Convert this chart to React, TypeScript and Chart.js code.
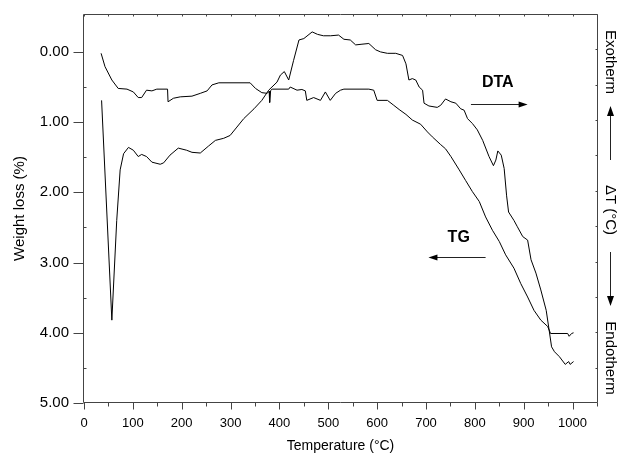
import { useEffect, useRef } from 'react';
import { Chart, registerables } from 'chart.js';

Chart.register(...registerables);

// TG curve: temperature (°C) and weight loss (%)
const tgTemp = [35, 43, 57, 70, 88, 101, 111, 118, 128, 139, 149, 171, 172, 183, 197, 221, 238, 252, 262, 276, 340, 351, 364, 375, 379, 380, 382, 385, 419, 422, 436, 446, 453, 456, 470, 484, 494, 504, 515, 525, 532, 583, 593, 600, 621, 634, 645, 659, 672, 689, 703, 713, 730, 740, 751, 768, 781, 795, 809, 822, 836, 850, 863, 880, 894, 908, 921, 935, 949, 955, 990, 993, 998, 1002];
const tgLoss = [0.02, 0.21, 0.40, 0.52, 0.53, 0.57, 0.65, 0.65, 0.545, 0.555, 0.53, 0.53, 0.71, 0.66, 0.64, 0.63, 0.59, 0.555, 0.47, 0.44, 0.44, 0.52, 0.58, 0.59, 0.56, 0.72, 0.55, 0.53, 0.53, 0.50, 0.545, 0.535, 0.555, 0.69, 0.65, 0.69, 0.57, 0.69, 0.59, 0.545, 0.53, 0.53, 0.545, 0.69, 0.69, 0.76, 0.82, 0.89, 0.97, 1.03, 1.14, 1.21, 1.32, 1.38, 1.49, 1.68, 1.83, 1.99, 2.13, 2.35, 2.54, 2.70, 2.89, 3.08, 3.30, 3.49, 3.68, 3.82, 3.91, 4.01, 4.01, 4.05, 4.01, 4.00];

// DTA curve: temperature (°C) and signal (drawn on the left-axis scale)
const dtaTemp = [36, 57, 67, 74, 81, 91, 101, 111, 118, 128, 139, 156, 163, 176, 193, 210, 221, 238, 255, 269, 286, 299, 313, 327, 348, 364, 378, 395, 402, 410, 419, 429, 440, 450, 467, 478, 490, 505, 521, 532, 545, 556, 569, 583, 597, 607, 621, 638, 652, 659, 665, 672, 679, 686, 693, 696, 706, 723, 730, 740, 751, 761, 771, 778, 785, 795, 805, 816, 829, 838, 843, 847, 854, 860, 865, 869, 880, 887, 898, 908, 915, 925, 935, 946, 952, 957, 963, 973, 985, 992, 995, 1002];
const dtaSignal = [0.69, 3.82, 2.40, 1.68, 1.45, 1.36, 1.40, 1.49, 1.46, 1.49, 1.57, 1.60, 1.58, 1.47, 1.37, 1.40, 1.43, 1.44, 1.34, 1.26, 1.23, 1.19, 1.07, 0.95, 0.81, 0.69, 0.545, 0.43, 0.33, 0.28, 0.40, 0.12, -0.17, -0.19, -0.285, -0.25, -0.23, -0.23, -0.24, -0.18, -0.17, -0.10, -0.11, -0.12, -0.03, 0.0, 0.02, 0.02, 0.05, 0.17, 0.40, 0.38, 0.40, 0.50, 0.545, 0.73, 0.77, 0.79, 0.76, 0.67, 0.71, 0.73, 0.81, 0.83, 0.95, 1.02, 1.11, 1.26, 1.49, 1.62, 1.54, 1.41, 1.47, 1.66, 2.05, 2.28, 2.40, 2.49, 2.63, 2.68, 2.96, 3.15, 3.39, 3.68, 3.96, 4.20, 4.27, 4.34, 4.45, 4.41, 4.45, 4.41];

const xTicks = [0, 100, 200, 300, 400, 500, 600, 700, 800, 900, 1000];
const xMinorTicks = [50, 150, 250, 350, 450, 550, 650, 750, 850, 950, 1050];
const yTicks = [0, 1, 2, 3, 4, 5];
const yMinorTicks = [0.5, 1.5, 2.5, 3.5, 4.5];
const rightTickCount = 11;

const FONT = '"Liberation Sans", Arial, Helvetica, sans-serif';
const AXIS_COLOR = '#444';

const framePlugin = {
  id: 'frame',
  afterDraw(chart: any) {
    const { ctx, chartArea: a, scales } = chart;
    const xs = scales.x;
    const ys = scales.y;
    ctx.save();
    ctx.strokeStyle = AXIS_COLOR;
    ctx.lineWidth = 1;
    const L = Math.round(a.left) - 0.5;
    const R = Math.round(a.right) + 0.5;
    const T = Math.round(a.top) + 0.5;
    const B = Math.round(a.bottom) - 0.5;
    ctx.beginPath();
    ctx.moveTo(L, T); ctx.lineTo(R, T); ctx.lineTo(R, B); ctx.lineTo(L, B); ctx.closePath();
    yTicks.forEach((v) => {
      const y = Math.round(ys.getPixelForValue(v)) + 0.5;
      ctx.moveTo(L - 10, y); ctx.lineTo(L, y);
    });
    yMinorTicks.forEach((v) => {
      const y = Math.round(ys.getPixelForValue(v)) + 0.5;
      ctx.moveTo(L, y); ctx.lineTo(L + 3, y);
    });
    xTicks.forEach((v) => {
      const x = Math.round(xs.getPixelForValue(v)) + 0.5;
      ctx.moveTo(x, B); ctx.lineTo(x, B + 7);
      ctx.moveTo(x, T); ctx.lineTo(x, T + 2);
    });
    xMinorTicks.forEach((v) => {
      const x = Math.round(xs.getPixelForValue(v)) + 0.5;
      ctx.moveTo(x, B); ctx.lineTo(x, B + 4);
      ctx.moveTo(x, T); ctx.lineTo(x, T + 2);
    });
    for (let i = 1; i < rightTickCount; i++) {
      const y = Math.round(a.top + (a.bottom - a.top) * i / rightTickCount) + 0.5;
      ctx.moveTo(R, y); ctx.lineTo(R - 2, y);
    }
    ctx.stroke();

    ctx.fillStyle = '#000';
    ctx.strokeStyle = '#222';
    ctx.font = 'bold 16px ' + FONT;
    ctx.textAlign = 'center';
    ctx.textBaseline = 'middle';
    ctx.fillText('DTA', xs.getPixelForValue(847), ys.getPixelForValue(0.43));
    ctx.fillText('TG', xs.getPixelForValue(767), ys.getPixelForValue(2.64));
    const arrow = (x1: number, y1: number, x2: number, y2: number) => {
      const dir = Math.sign(x2 - x1);
      ctx.beginPath();
      ctx.moveTo(x1, y1); ctx.lineTo(x2 - dir * 6, y2);
      ctx.stroke();
      ctx.beginPath();
      ctx.moveTo(x2, y2);
      ctx.lineTo(x2 - dir * 9, y2 - 3);
      ctx.lineTo(x2 - dir * 9, y2 + 3);
      ctx.closePath();
      ctx.fill();
    };
    const ay1 = Math.round(ys.getPixelForValue(0.745)) + 0.5;
    arrow(xs.getPixelForValue(792), ay1, xs.getPixelForValue(908), ay1);
    const ay2 = Math.round(ys.getPixelForValue(2.92)) + 0.5;
    arrow(xs.getPixelForValue(822), ay2, xs.getPixelForValue(705), ay2);

    const cx = 610;
    ctx.font = '15px ' + FONT;
    const vtext = (t: string, cy: number) => {
      ctx.save();
      ctx.translate(cx, cy);
      ctx.rotate(Math.PI / 2);
      ctx.fillText(t, 0, 0);
      ctx.restore();
    };
    vtext('Exotherm', 62);
    vtext('\u0394T (\u00B0C)', 210);
    vtext('Endotherm', 358);
    const vx = cx + 0.5;
    ctx.beginPath();
    ctx.moveTo(vx, 160); ctx.lineTo(vx, 114);
    ctx.moveTo(vx, 252); ctx.lineTo(vx, 298);
    ctx.stroke();
    ctx.beginPath();
    ctx.moveTo(vx, 106); ctx.lineTo(vx - 3.5, 116); ctx.lineTo(vx + 3.5, 116); ctx.closePath();
    ctx.moveTo(vx, 306); ctx.lineTo(vx - 3.5, 296); ctx.lineTo(vx + 3.5, 296); ctx.closePath();
    ctx.fill();
    ctx.restore();
  },
};

export default function App() {
  const ref = useRef<HTMLCanvasElement | null>(null);
  useEffect(() => {
    if (!ref.current) return;
    Chart.defaults.font.family = FONT;
    Chart.defaults.color = '#000';
    const chart = new Chart(ref.current, {
      type: 'line',
      data: {
        datasets: [
          {
            label: 'TG',
            data: tgTemp.map((t, i) => ({ x: t, y: tgLoss[i] })),
            borderColor: '#000',
            borderWidth: 1,
            pointRadius: 0,
            tension: 0,
            fill: false,
          },
          {
            label: 'DTA',
            data: dtaTemp.map((t, i) => ({ x: t, y: dtaSignal[i] })),
            borderColor: '#000',
            borderWidth: 1,
            pointRadius: 0,
            tension: 0,
            fill: false,
          },
        ],
      },
      options: {
        responsive: false,
        animation: false,
        events: [],
        layout: { padding: { top: 14, right: 24, left: 0, bottom: 0 } },
        plugins: { legend: { display: false }, tooltip: { enabled: false } },
        scales: {
          x: {
            type: 'linear',
            min: 0,
            max: 1050,
            grid: { display: false, drawTicks: false },
            border: { display: false },
            afterBuildTicks: (s: any) => { s.ticks = xTicks.map((v) => ({ value: v })); },
            afterFit: (s: any) => { s.height = 52; s.paddingLeft = 0; s.paddingRight = 0; },
            ticks: { font: { size: 13 }, padding: 13, maxRotation: 0, autoSkip: false, callback: (v: any) => String(v) },
            title: { display: true, text: 'Temperature (\u00B0C)', font: { size: 14 }, padding: { top: 0, bottom: 0 } },
          },
          y: {
            type: 'linear',
            reverse: true,
            min: -0.54,
            max: 5,
            grid: { display: false, drawTicks: false },
            border: { display: false },
            afterBuildTicks: (s: any) => { s.ticks = yTicks.map((v) => ({ value: v })); },
            afterFit: (s: any) => { s.width = 84; s.paddingTop = 0; s.paddingBottom = 0; },
            ticks: { font: { size: 15 }, padding: 15, callback: (v: any) => Number(v).toFixed(2) },
            title: { display: true, text: 'Weight loss (%)', font: { size: 15 }, padding: { top: 11, bottom: 0 } },
          },
        },
      },
      plugins: [framePlugin],
    });
    return () => chart.destroy();
  }, []);
  return (
    <canvas
      ref={ref}
      width={621}
      height={455}
      style={{ position: 'absolute', left: 0, top: 0, display: 'block', width: 621, height: 455 }}
    />
  );
}
